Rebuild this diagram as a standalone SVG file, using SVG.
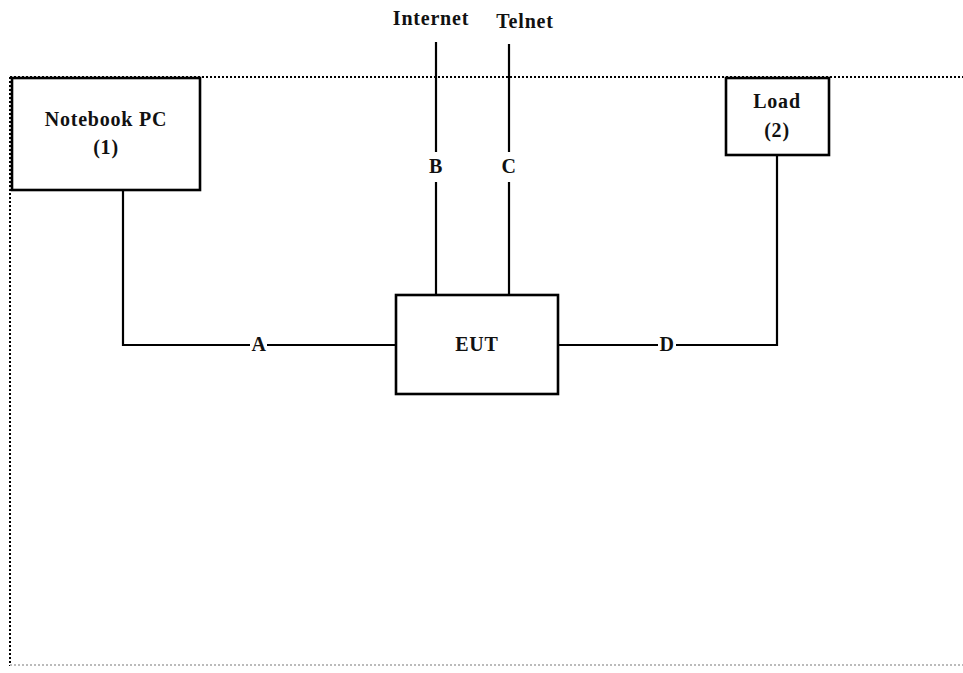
<svg xmlns="http://www.w3.org/2000/svg" width="963" height="673" viewBox="0 0 963 673">
<style>
.box{fill:#fff;stroke:#000;stroke-width:2.6}
.ln{fill:none;stroke:#000;stroke-width:2.2}
.dot{fill:none;stroke:#000;stroke-width:2;stroke-dasharray:2 2}
.t{font-family:"Liberation Serif",serif;font-weight:bold;font-size:20px;letter-spacing:0.8px;fill:#111;text-anchor:middle}
</style>
<rect width="963" height="673" fill="#fff"/>
<g id="frame">
<line class="dot" x1="10" y1="77" x2="963" y2="77"/>
<line class="dot" x1="10" y1="77" x2="10" y2="666"/>
<line x1="10" y1="665" x2="963" y2="665" stroke="#bbb" stroke-width="2" stroke-dasharray="2 2"/>
</g>
<g id="connectors">
<polyline class="ln" points="123,190 123,345 250,345"/>
<line class="ln" x1="267" y1="345" x2="396" y2="345"/>
<line class="ln" x1="436" y1="42" x2="436" y2="152"/>
<line class="ln" x1="436" y1="182" x2="436" y2="295"/>
<line class="ln" x1="509" y1="44" x2="509" y2="152"/>
<line class="ln" x1="509" y1="182" x2="509" y2="295"/>
<line class="ln" x1="558" y1="345" x2="658" y2="345"/>
<polyline class="ln" points="676,345 777,345 777,155"/>
<text class="t" x="259" y="351">A</text>
<text class="t" x="436" y="173">B</text>
<text class="t" x="509" y="173">C</text>
<text class="t" x="667" y="351">D</text>
<text class="t" x="431" y="25">Internet</text>
<text class="t" x="525" y="28">Telnet</text>
</g>
<g id="notebook">
<rect class="box" x="12" y="78" width="188" height="112"/>
<text class="t" x="106" y="126">Notebook PC</text>
<text class="t" x="106" y="154">(1)</text>
</g>
<g id="load">
<rect class="box" x="726" y="78" width="103" height="77"/>
<text class="t" x="777" y="108">Load</text>
<text class="t" x="777" y="137">(2)</text>
</g>
<g id="eut">
<rect class="box" x="396" y="295" width="162" height="99"/>
<text class="t" x="477" y="351">EUT</text>
</g>
</svg>
